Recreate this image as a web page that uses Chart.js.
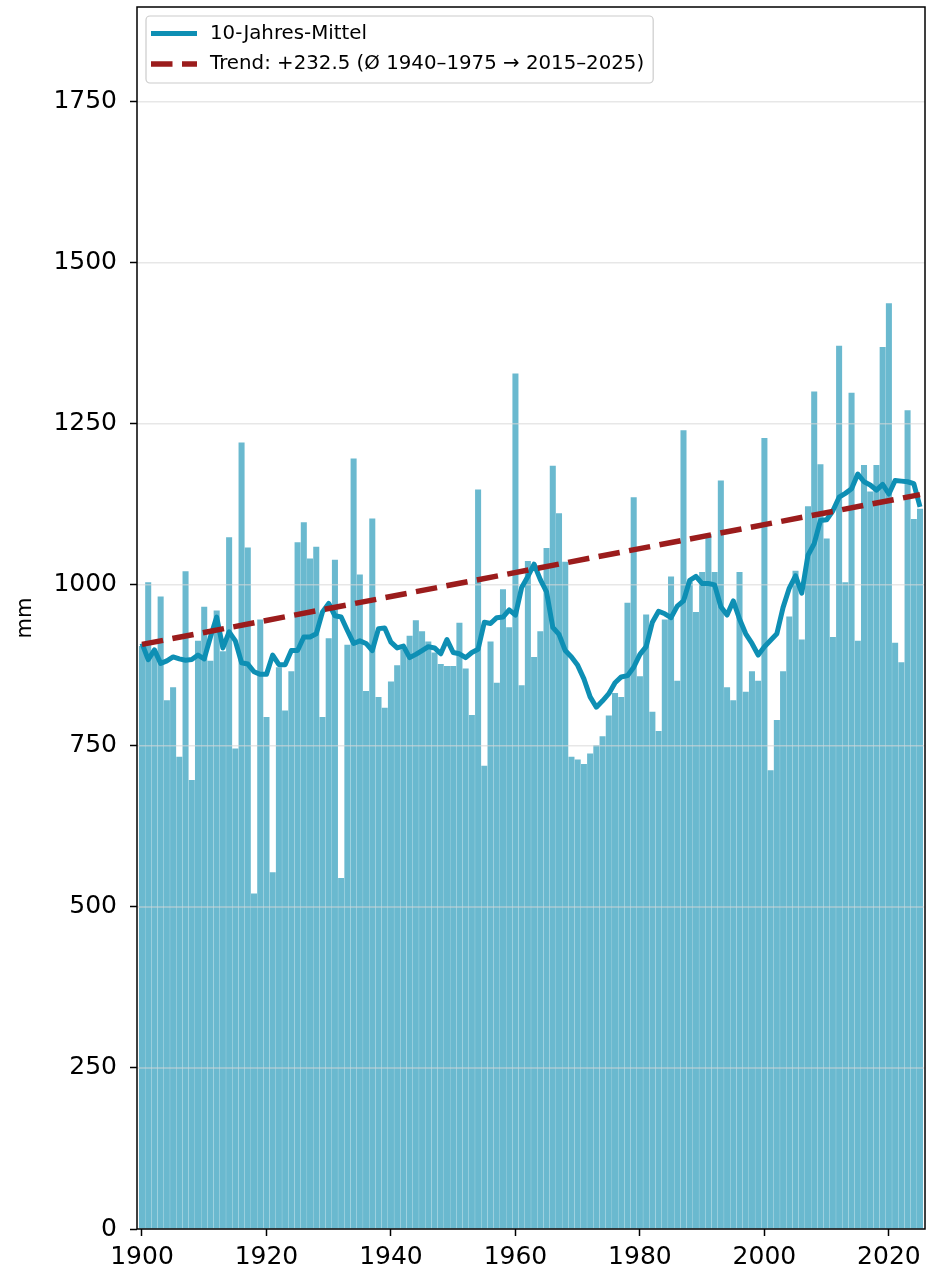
<!DOCTYPE html>
<html lang="de">
<head>
<meta charset="utf-8">
<title>Niederschlag 1900–2025</title>
<script src="https://cdn.jsdelivr.net/npm/chart.js@4.4.1/dist/chart.umd.min.js"></script>
<style>
    html, body { margin: 0; padding: 0; background: #fff; }
    #wrap { width: 928px; height: 1275px; position: relative; }
</style>
</head>
<body>
<div id="wrap"><canvas id="graficoNiederschlag"></canvas></div>
<script>
// Jahre (Kategorien)
const jahre = [];
for (let j = 1900; j <= 2025; j++) jahre.push(j);

// Jahressumme Niederschlag in mm, 1900–2025
const niederschlag = [
    905, 1004, 895, 982, 821, 841, 733, 1021, 697, 913,
    966, 882, 960, 897, 1074, 746, 1221, 1058, 521, 946,
    795, 554, 872, 805, 866, 1066, 1097, 1041, 1059, 795,
    917, 1039, 545, 907, 1196, 1016, 835, 1103, 826, 809,
    850, 875, 900, 921, 945, 928, 912, 895, 877, 874,
    874, 941, 870, 798, 1148, 719, 912, 848, 993, 934,
    1328, 844, 1037, 888, 928, 1057, 1185, 1111, 1036, 733,
    729, 722, 738, 751, 765, 797, 832, 826, 972, 1136,
    858, 954, 803, 773, 946, 1013, 851, 1240, 1005, 958,
    1020, 1079, 1020, 1162, 841, 821, 1020, 834, 866, 851,
    1228, 712, 790, 866, 951, 1022, 915, 1122, 1300, 1187,
    1072, 919, 1371, 1004, 1298, 913, 1186, 1145, 1186, 1369,
    1437, 910, 880, 1271, 1102, 1118
];

// 10-Jahres-Mittel
const mittel10 = [
    909, 884, 899, 878, 882, 888, 885, 883, 884, 891,
    885, 919, 950, 902, 927, 913, 879, 877, 865, 861,
    861, 891, 876, 876, 898, 898, 919, 919, 924, 958,
    971, 952, 950, 929, 909, 913, 909, 898, 932, 933,
    911, 902, 905, 887, 892, 898, 904, 902, 893, 915,
    895, 893, 887, 895, 900, 942, 940, 949, 950, 961,
    953, 996, 1013, 1032, 1008, 989, 934, 923, 898, 888,
    875, 854, 826, 810, 820, 831, 848, 857, 859, 872,
    892, 904, 942, 959, 955, 949, 967, 975, 1007, 1013,
    1002, 1002, 1000, 966, 953, 975, 947, 924, 909, 891,
    904, 914, 924, 965, 995, 1014, 987, 1046, 1064, 1100,
    1101, 1115, 1136, 1142, 1149, 1172, 1160, 1155, 1147, 1156,
    1141, 1162, 1161, 1160, 1157, 1121
];

// Trendlinie (Anfang / Ende)
const trendJahre = [1900, 2025];
const trendWerte = [907.5, 1140];

// Achsenbeschriftungen
const xTicks = [1900, 1920, 1940, 1960, 1980, 2000, 2020];
const yTicks = [0, 250, 500, 750, 1000, 1250, 1500, 1750];

const legendeTexte = ["10-Jahres-Mittel", "Trend: +232.5 (Ø 1940–1975 → 2015–2025)"];

const schrift = "'DejaVu Sans', 'Liberation Sans', sans-serif";

// Gitterlinien liegen über den Balken, aber unter den Linien
const gitterPlugin = {
    id: "gitter",
    afterDatasetDraw(chart, args) {
        if (args.meta.type !== "bar") return;
        const ctx = chart.ctx;
        const area = chart.chartArea;
        const y = chart.scales.y;
        ctx.save();
        ctx.strokeStyle = "rgba(215,215,215,0.6)";
        ctx.lineWidth = 1.5;
        yTicks.forEach(v => {
            if (v === 0) return;
            const py = y.getPixelForValue(v);
            ctx.beginPath();
            ctx.moveTo(area.left, py);
            ctx.lineTo(area.right, py);
            ctx.stroke();
        });
        ctx.restore();
    }
};

// Rahmen um die Zeichenfläche + Legende oben links
const rahmenPlugin = {
    id: "rahmen",
    afterDraw(chart) {
        const ctx = chart.ctx;
        const a = chart.chartArea;
        ctx.save();
        ctx.strokeStyle = "#000";
        ctx.lineWidth = 1.5;
        ctx.strokeRect(a.left, a.top, a.right - a.left, a.bottom - a.top);

        // Legende: nur die Linien, in der Reihenfolge der Texte
        const ds = legendeTexte.map(t => chart.data.datasets.find(d => d.label === t));
        const left = a.left + 9;
        const top = a.top + 9;
        ctx.font = "19.8px " + schrift;
        let maxW = 0;
        ds.forEach(d => { maxW = Math.max(maxW, ctx.measureText(d.label).width); });
        const textX = left + 64;
        const w = textX - left + maxW + 9;
        const h = 67;
        ctx.fillStyle = "rgba(255,255,255,0.85)";
        ctx.strokeStyle = "#cccccc";
        ctx.lineWidth = 1.2;
        ctx.beginPath();
        ctx.roundRect(left, top, w, h, 4);
        ctx.fill();
        ctx.stroke();

        ds.forEach((d, i) => {
            const yy = top + 17.5 + i * 30.5;
            ctx.beginPath();
            ctx.strokeStyle = d.borderColor;
            ctx.lineWidth = d.borderWidth;
            ctx.setLineDash(d.borderDash || []);
            ctx.lineCap = "butt";
            ctx.moveTo(left + 5, yy);
            ctx.lineTo(left + 51, yy);
            ctx.stroke();
            ctx.setLineDash([]);
            ctx.fillStyle = "#000";
            ctx.textBaseline = "middle";
            ctx.fillText(d.label, textX, yy);
        });
        ctx.restore();
    }
};

const ctx1 = document.getElementById("graficoNiederschlag").getContext("2d");

new Chart(ctx1, {
    type: "bar",
    data: {
        datasets: [
            {
                type: "line",
                label: legendeTexte[1],
                data: trendJahre.map((j, i) => ({ x: j, y: trendWerte[i] })),
                borderColor: "#9b1c1c",
                borderWidth: 5.5,
                borderDash: [21.5, 9.5],
                borderCapStyle: "butt",
                pointRadius: 0,
                order: 0
            },
            {
                type: "line",
                label: legendeTexte[0],
                data: jahre.map((j, i) => ({ x: j, y: mittel10[i] })),
                borderColor: "#0e8fb4",
                borderWidth: 5,
                borderJoinStyle: "round",
                pointRadius: 0,
                tension: 0,
                order: 1
            },
            {
                type: "bar",
                label: "Niederschlag",
                data: jahre.map((j, i) => ({ x: j, y: niederschlag[i] })),
                backgroundColor: "#6ab9cf",
                borderWidth: 0,
                barPercentage: 0.97,
                categoryPercentage: 1,
                order: 2
            }
        ]
    },
    options: {
        responsive: true,
        maintainAspectRatio: false,
        animation: false,
        devicePixelRatio: 1,
        layout: { padding: { top: 7, right: 3, left: 0, bottom: 0 } },
        plugins: {
            legend: { display: false },
            tooltip: { enabled: false }
        },
        scales: {
            x: {
                type: "linear",
                min: 1899.2,
                max: 2025.8,
                offset: false,
                border: { display: false },
                grid: {
                    offset: false,
                    drawOnChartArea: false,
                    color: "rgba(0,0,0,0)",
                    tickColor: "#000",
                    tickLength: 7,
                    tickWidth: 1.5
                },
                ticks: {
                    color: "#000",
                    font: { family: schrift, size: 25 },
                    padding: 6,
                    maxRotation: 0,
                    autoSkip: false,
                    callback: v => String(v)
                },
                afterBuildTicks: s => { s.ticks = xTicks.map(v => ({ value: v })); },
                afterFit: s => { s.height = 46; s.paddingLeft = 0; s.paddingRight = 0; }
            },
            y: {
                type: "linear",
                min: 0,
                max: 1897,
                border: { display: false },
                grid: {
                    drawOnChartArea: false,
                    color: "rgba(0,0,0,0)",
                    tickColor: "#000",
                    tickLength: 7,
                    tickWidth: 1.5
                },
                ticks: {
                    color: "#000",
                    font: { family: schrift, size: 25 },
                    padding: 13,
                    callback: v => String(v)
                },
                title: {
                    display: true,
                    text: "mm",
                    color: "#000",
                    font: { family: schrift, size: 21 },
                    padding: { top: 13, bottom: 0 }
                },
                afterBuildTicks: s => { s.ticks = yTicks.map(v => ({ value: v })); },
                afterFit: s => { s.width = 137; s.paddingTop = 0; s.paddingBottom = 0; }
            }
        }
    },
    plugins: [gitterPlugin, rahmenPlugin]
});
</script>
</body>
</html>
